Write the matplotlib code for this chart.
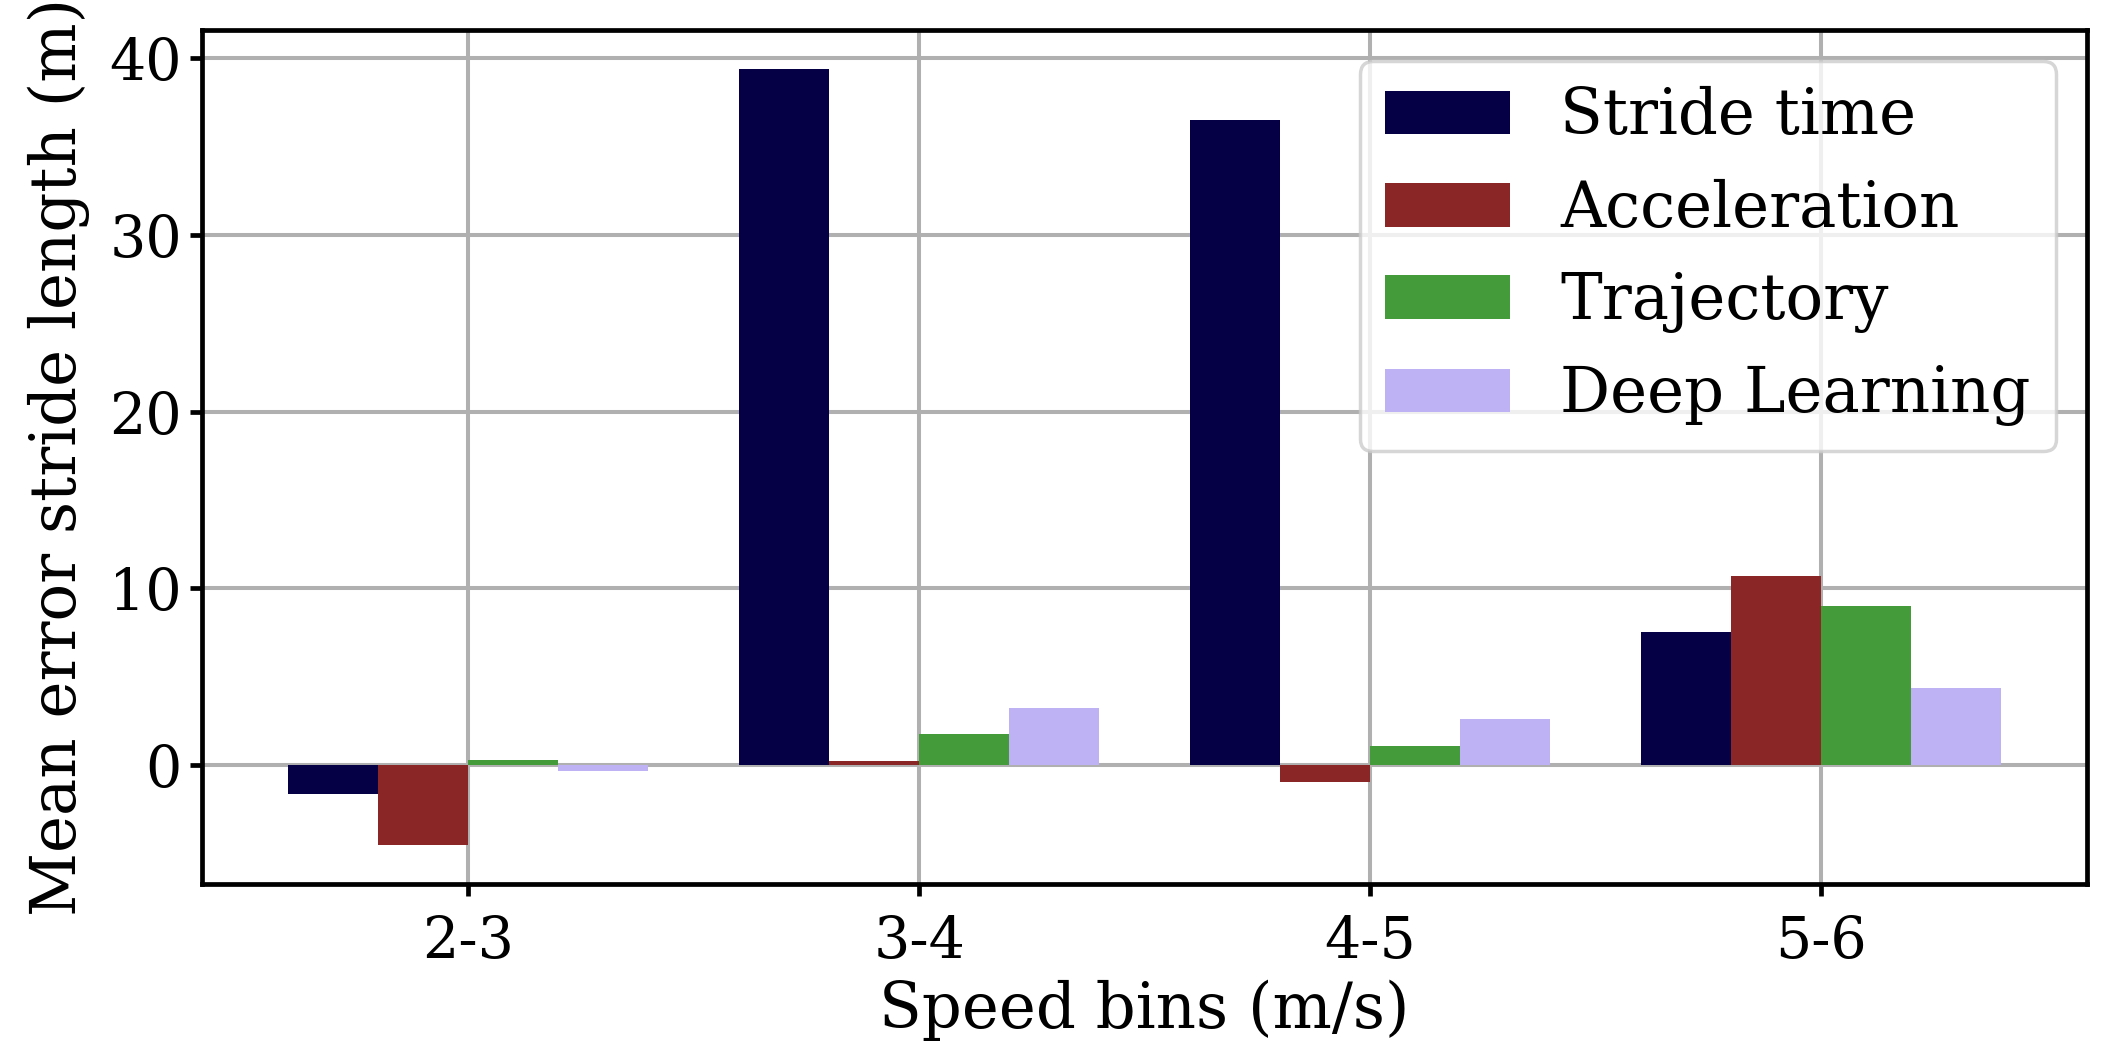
import matplotlib
matplotlib.use("Agg")
import matplotlib.pyplot as plt
import numpy as np

categories = ["2-3", "3-4", "4-5", "5-6"]
series_names = ["Stride time", "Acceleration", "Trajectory", "Deep Learning"]
stride_time = [-1.64, 39.37, 36.49, 7.56]
acceleration = [-4.51, 0.25, -0.96, 10.72]
trajectory = [0.32, 1.75, 1.07, 9.02]
deep_learning = [-0.34, 3.27, 2.60, 4.40]
colors = ["#050046", "#8b2627", "#439b3a", "#bfb2f4"]

plt.rcParams["font.family"] = ["DejaVu Serif"]
plt.rcParams["font.size"] = 45

fig = plt.figure(figsize=(21.09, 10.61), dpi=100)
ax = fig.add_axes([0.0958, 0.1668, 0.9896 - 0.0958, 0.9717 - 0.1668])

x = np.arange(len(categories))
w = 0.2
all_series = [stride_time, acceleration, trajectory, deep_learning]
for i, (vals, name, c) in enumerate(zip(all_series, series_names, colors)):
    ax.bar(x + (i - 1.5) * w, vals, w, color=c, label=name, zorder=3)

ax.set_xticks(x)
ax.set_xticklabels(categories)
ax.set_yticks([0, 10, 20, 30, 40])
ax.grid(True, color="#b0b0b0", linewidth=2.9, zorder=0)
ax.set_axisbelow(True)
for s in ax.spines.values():
    s.set_linewidth(3.4)
ax.tick_params(length=8.5, width=3.4, labelsize=41)
ax.tick_params(axis="x", pad=13)
ax.tick_params(axis="y", pad=6)
ax.set_xlabel("Speed bins (m/s)", labelpad=7)
ax.set_ylabel("Mean error stride length (m)", labelpad=14)

leg = ax.legend(loc="upper right", fancybox=True, framealpha=0.8, fontsize=45)
leg.get_frame().set_linewidth(2.5)

fig.savefig("out.png", dpi=100)
